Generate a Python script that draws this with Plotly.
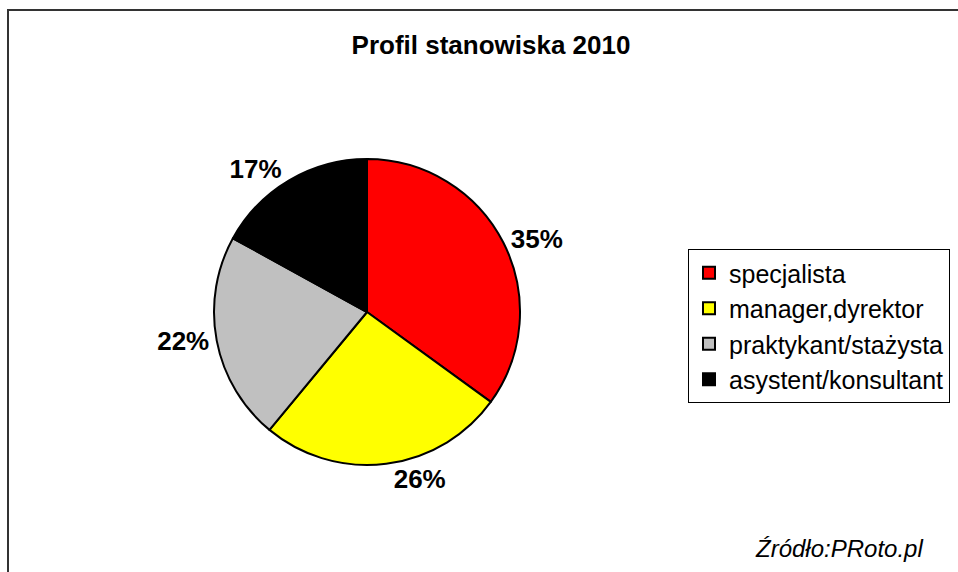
import plotly.graph_objects as go

categories = ["specjalista", "manager,dyrektor", "praktykant/stażysta", "asystent/konsultant"]
values = [35, 26, 22, 17]
colors = ["#FF0000", "#FFFF00", "#C0C0C0", "#000000"]

W, H = 958, 572
FONT = "Liberation Sans, Arial, sans-serif"

fig = go.Figure(go.Pie(
    labels=categories,
    values=values,
    sort=False,
    direction="clockwise",
    rotation=0,
    marker=dict(colors=colors, line=dict(color="#000000", width=2)),
    texttemplate="<b>%{percent:.0%}</b>",
    textposition="outside",
    textfont=dict(family=FONT, size=26, color="#000000"),
    hoverinfo="label+percent",
    domain=dict(x=[214 / W, 520 / W], y=[1 - 465 / H, 1 - 159 / H]),
))

fig.update_layout(
    width=W, height=H,
    margin=dict(l=0, r=0, t=0, b=0),
    paper_bgcolor="white",
    plot_bgcolor="white",
    font=dict(family=FONT, color="#000000"),
    title=dict(text="<b>Profil stanowiska 2010</b>", x=491 / W, xanchor="center",
               y=1 - 45 / H, yanchor="middle", xref="paper", yref="paper",
               font=dict(family=FONT, size=26, color="#000000")),
    showlegend=True,
    legend=dict(x=688 / W, y=1 - 249 / H, xanchor="left", yanchor="top",
                bordercolor="#000000", borderwidth=1, bgcolor="white",
                font=dict(family=FONT, size=25, color="#000000"),
                itemsizing="constant", tracegroupgap=0),
    annotations=[dict(text="<i>Źródło:PRoto.pl</i>", x=925 / W, y=1 - 548 / H,
                      xref="paper", yref="paper", xanchor="right", yanchor="middle",
                      showarrow=False, font=dict(family=FONT, size=24, color="#000000"))],
    shapes=[dict(type="rect", xref="paper", yref="paper",
                 x0=8 / W, x1=1.05, y0=-0.05, y1=1 - 10 / H,
                 line=dict(color="#333333", width=2), fillcolor="rgba(0,0,0,0)", layer="below")],
)

fig.write_html("out.html", config={"displayModeBar": False},
               post_script="document.body.style.margin='0px';document.body.style.overflow='hidden';")
